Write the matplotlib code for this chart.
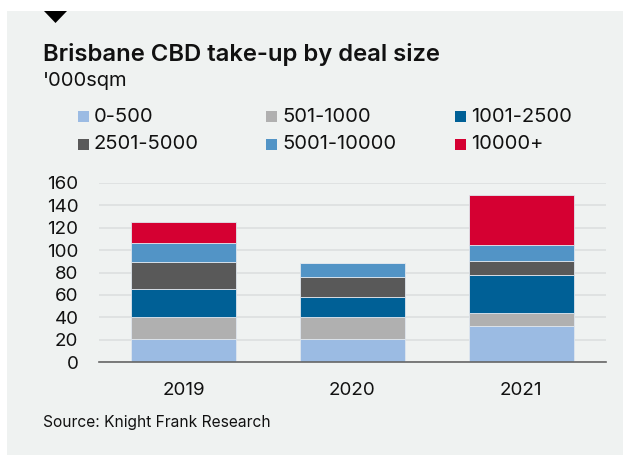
#!/usr/bin/env python3

import matplotlib.pyplot as plt
from matplotlib.patches import Rectangle, Polygon
import numpy as np

years = ['2019', '2020', '2021']
bands = ['0-500', '501-1000', '1001-2500', '2501-5000', '5001-10000', '10000+']
colors = ['#9bbbe3', '#b0b0b0', '#006096', '#595959', '#5294c6', '#d50032']

# '000 sqm per deal-size band, one list per band (2019, 2020, 2021)
v_0_500 = [20.5, 20.5, 32.3]
v_501_1000 = [20.1, 20.1, 11.9]
v_1001_2500 = [24.4, 17.3, 33.3]
v_2501_5000 = [24.6, 18.0, 13.0]
v_5001_10000 = [16.4, 12.8, 14.2]
v_10000_plus = [19.3, 0.0, 44.1]
series = [v_0_500, v_501_1000, v_1001_2500, v_2501_5000, v_5001_10000, v_10000_plus]

W, H = 627, 455
bg = '#eff2f1'
ink = '#111111'
plt.rcParams['font.family'] = ['Inter', 'DejaVu Sans']

fig = plt.figure(figsize=(W / 100, H / 100), dpi=100)
fig.patch.set_facecolor('white')


def fx(px):
    return px / W


def fy(py):
    return 1 - py / H


# grey panel behind everything
fig.add_artist(Rectangle((fx(7), 0), fx(623 - 7), (H - 11) / H,
                         transform=fig.transFigure, facecolor=bg, edgecolor='none', zorder=-10))
# small black triangle marker at top
fig.add_artist(Polygon([(fx(44), fy(11)), (fx(67), fy(11)), (fx(55.5), fy(23))],
                       transform=fig.transFigure, facecolor='black', edgecolor='none'))

fig.text(fx(43), fy(61), 'Brisbane CBD take-up by deal size', fontsize=17.2,
         fontweight='semibold', va='baseline', ha='left', color=ink)
fig.text(fx(43), fy(86), "'000sqm", fontsize=14.5, va='baseline', ha='left', color=ink)

# legend, filled row by row
col_x = [78, 266, 455]
row_y = [117, 144]
for i, (name, c) in enumerate(zip(bands, colors)):
    x = col_x[i % 3]
    y = row_y[i // 3]
    fig.add_artist(Rectangle((fx(x), fy(y + 5.5)), fx(11), 11 / H,
                             transform=fig.transFigure, facecolor=c, edgecolor='none'))
    fig.text(fx(x + 16), fy(y), name, fontsize=14.5, va='center', ha='left', color=ink)

ax = fig.add_axes([fx(99.3), fy(362.3), fx(506.4), 179.6 / H])
ax.set_facecolor(bg)
x = np.arange(len(years))
bottom = np.zeros(len(years))
for name, vals, c in zip(bands, series, colors):
    ax.bar(x, vals, 0.62, bottom=bottom, color=c, edgecolor='#dfe6ee', linewidth=0.6,
           label=name, zorder=3)
    bottom += np.array(vals)

ax.set_xlim(-0.5, 2.5)
ax.set_ylim(0, 160)
ax.set_yticks(range(0, 161, 20))
ax.set_xticks(x)
ax.set_xticklabels(years)
ax.yaxis.grid(True, color='#dcdfdf', linewidth=1.2, zorder=0)
ax.set_axisbelow(True)
for s in ['top', 'right', 'left']:
    ax.spines[s].set_visible(False)
ax.spines['bottom'].set_color('#666666')
ax.spines['bottom'].set_linewidth(1.2)
ax.spines['bottom'].set_zorder(4)
ax.tick_params(axis='y', length=0, pad=15, labelsize=13.5, labelcolor=ink)
ax.tick_params(axis='x', length=0, pad=14, labelsize=13.5, labelcolor=ink)

fig.text(fx(43), fy(423), 'Source: Knight Frank Research', fontsize=11.2,
         va='center', ha='left', color=ink)

plt.savefig('out.png', dpi=100, facecolor=fig.get_facecolor())
plt.close()
